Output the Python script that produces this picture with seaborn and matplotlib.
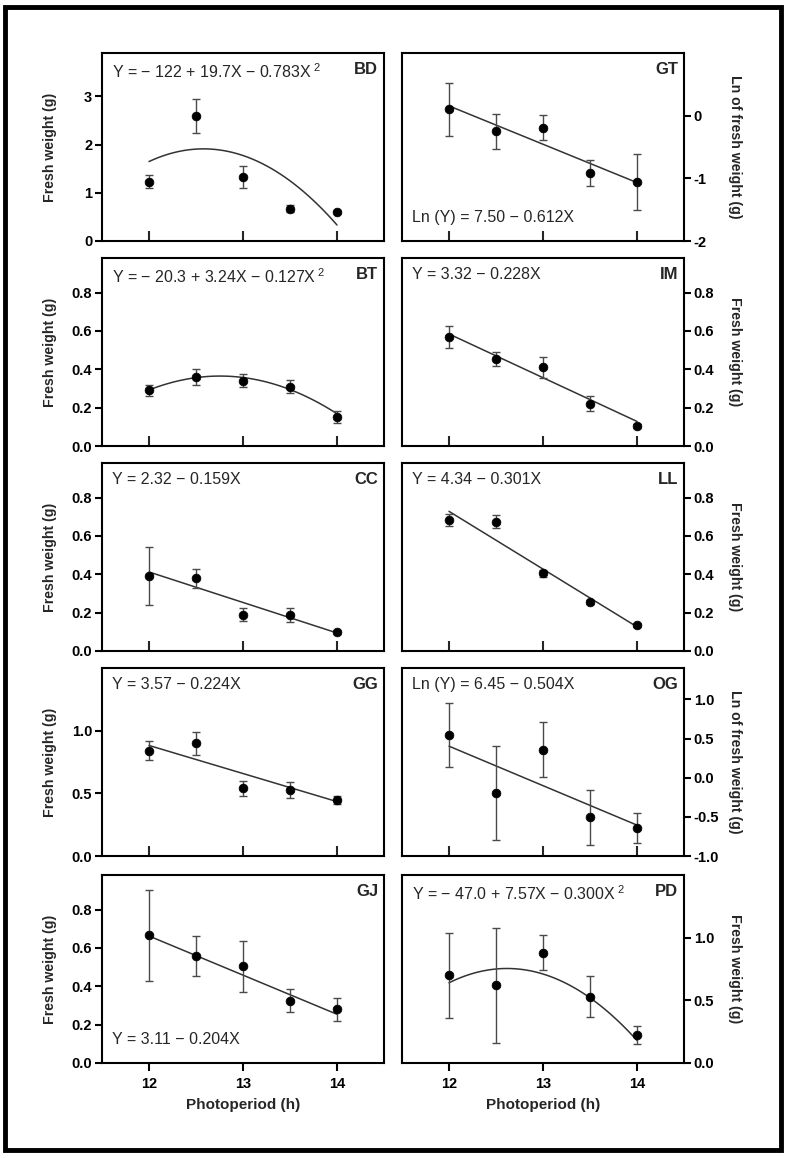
import numpy as np
import pandas as pd
import seaborn as sns
import matplotlib.pyplot as plt
from matplotlib.patches import Rectangle
from matplotlib.ticker import FormatStrFormatter

sns.set_theme(style='ticks')
plt.rcParams['font.family'] = ['Liberation Sans', 'DejaVu Sans']
plt.rcParams['axes.unicode_minus'] = False
plt.rcParams['mathtext.fontset'] = 'custom'
plt.rcParams['mathtext.rm'] = 'Liberation Sans'

photoperiod = [12, 12.5, 13, 13.5, 14]

# means and error bars (GT and OG are on ln scale)
bd_mean = [1.23, 2.60, 1.33, 0.67, 0.60]
bd_err = [0.14, 0.35, 0.23, 0.07, 0.02]
gt_mean = [0.10, -0.25, -0.19, -0.92, -1.06]
gt_err = [0.42, 0.28, 0.20, 0.21, 0.45]
bt_mean = [0.29, 0.36, 0.34, 0.31, 0.15]
bt_err = [0.03, 0.04, 0.033, 0.034, 0.03]
im_mean = [0.57, 0.454, 0.41, 0.221, 0.106]
im_err = [0.057, 0.035, 0.056, 0.04, 0.01]
cc_mean = [0.392, 0.378, 0.188, 0.186, 0.098]
cc_err = [0.15, 0.049, 0.034, 0.036, 0.008]
ll_mean = [0.683, 0.674, 0.404, 0.254, 0.135]
ll_err = [0.031, 0.033, 0.02, 0.01, 0.008]
gg_mean = [0.84, 0.90, 0.54, 0.525, 0.445]
gg_err = [0.077, 0.093, 0.062, 0.065, 0.03]
og_mean = [0.543, -0.197, 0.359, -0.504, -0.645]
og_err = [0.41, 0.60, 0.35, 0.35, 0.195]
gj_mean = [0.666, 0.557, 0.504, 0.325, 0.281]
gj_err = [0.238, 0.105, 0.132, 0.061, 0.06]
pd_mean = [0.70, 0.62, 0.88, 0.53, 0.225]
pd_err = [0.34, 0.46, 0.138, 0.163, 0.073]

# fitted regression coefficients printed on each panel (highest power first)
bd_fit = [-0.783, 19.7, -122]
gt_fit = [-0.612, 7.50]
bt_fit = [-0.127, 3.24, -20.3]
im_fit = [-0.228, 3.32]
cc_fit = [-0.159, 2.32]
ll_fit = [-0.301, 4.34]
gg_fit = [-0.224, 3.57]
og_fit = [-0.504, 6.45]
gj_fit = [-0.204, 3.11]
pd_fit = [-0.300, 7.57, -47.0]

sq = r'$^{\mathrm{\ 2}}$'
panels = [
    # name, mean, err, fit, equation, eq at bottom, ylim, yticks, ylabel, fmt
    ('BD', bd_mean, bd_err, bd_fit, 'Y = \u2212 122 + 19.7X \u2212 0.783X' + sq, False,
     (0, 3.9), [0, 1, 2, 3], 'Fresh weight (g)', '%d'),
    ('GT', gt_mean, gt_err, gt_fit, 'Ln (Y) = 7.50 \u2212 0.612X', True,
     (-2, 1.0), [-2, -1, 0], 'Ln of fresh weight (g)', '%d'),
    ('BT', bt_mean, bt_err, bt_fit, 'Y = \u2212 20.3 + 3.24X \u2212 0.127X' + sq, False,
     (0, 0.98), [0, 0.2, 0.4, 0.6, 0.8], 'Fresh weight (g)', '%.1f'),
    ('IM', im_mean, im_err, im_fit, 'Y = 3.32 \u2212 0.228X', False,
     (0, 0.98), [0, 0.2, 0.4, 0.6, 0.8], 'Fresh weight (g)', '%.1f'),
    ('CC', cc_mean, cc_err, cc_fit, 'Y = 2.32 \u2212 0.159X', False,
     (0, 0.98), [0, 0.2, 0.4, 0.6, 0.8], 'Fresh weight (g)', '%.1f'),
    ('LL', ll_mean, ll_err, ll_fit, 'Y = 4.34 \u2212 0.301X', False,
     (0, 0.98), [0, 0.2, 0.4, 0.6, 0.8], 'Fresh weight (g)', '%.1f'),
    ('GG', gg_mean, gg_err, gg_fit, 'Y = 3.57 \u2212 0.224X', False,
     (0, 1.5), [0, 0.5, 1.0], 'Fresh weight (g)', '%.1f'),
    ('OG', og_mean, og_err, og_fit, 'Ln (Y) = 6.45 \u2212 0.504X', False,
     (-1.0, 1.4), [-1.0, -0.5, 0.0, 0.5, 1.0], 'Ln of fresh weight (g)', '%.1f'),
    ('GJ', gj_mean, gj_err, gj_fit, 'Y = 3.11 \u2212 0.204X', True,
     (0, 0.98), [0, 0.2, 0.4, 0.6, 0.8], 'Fresh weight (g)', '%.1f'),
    ('PD', pd_mean, pd_err, pd_fit, 'Y = \u2212 47.0 + 7.57X \u2212 0.300X' + sq, False,
     (0, 1.5), [0, 0.5, 1.0], 'Fresh weight (g)', '%.1f'),
]

W, H = 787, 1158
fig = plt.figure(figsize=(W / 100, H / 100), dpi=100)

col_left = [102, 402]
col_w = 282
row_top = [53, 258, 463, 668, 875]
row_h = 188

for i, (name, mean, err, fit, eq, eq_bottom, ylim, yticks, ylabel, fmt) in enumerate(panels):
    row, col = i // 2, i % 2
    ax = fig.add_axes([col_left[col] / W, 1 - (row_top[row] + row_h) / H,
                       col_w / W, row_h / H])

    df = pd.DataFrame({'x': photoperiod, 'y': mean, 'err': err})
    xs = np.linspace(12, 14, 100)
    fit_df = pd.DataFrame({'x': xs, 'y': np.polyval(fit, xs)})

    sns.lineplot(data=fit_df, x='x', y='y', ax=ax, color='#333333', lw=1.1)
    ax.errorbar(df['x'], df['y'], yerr=df['err'], fmt='none', ecolor='#4a4a4a',
                elinewidth=1.0, capsize=3, capthick=1.0, zorder=3)
    sns.scatterplot(data=df, x='x', y='y', ax=ax, color='black', s=40,
                    edgecolor='black', zorder=4)

    ax.set_xlim(11.5, 14.5)
    ax.set_ylim(*ylim)
    ax.set_xticks([12, 13, 14])
    ax.set_yticks(yticks)
    ax.yaxis.set_major_formatter(FormatStrFormatter(fmt))
    for s in ax.spines.values():
        s.set_visible(True)
        s.set_linewidth(1.5)
        s.set_color('black')

    if col == 1:
        ax.yaxis.tick_right()
        ax.yaxis.set_label_position('right')
        ax.set_ylabel(ylabel, rotation=270, fontsize=10.2, fontweight='bold', va='center')
        ax.yaxis.set_label_coords(1.18, 0.5)
    else:
        ax.set_ylabel(ylabel, fontsize=10.2, fontweight='bold', va='center')
        ax.yaxis.set_label_coords(-0.185, 0.5)
    ax.tick_params(axis='y', direction='out', length=5, width=1.5, pad=2,
                   labelsize=10.5, colors='black')
    for t in ax.get_yticklabels():
        t.set_fontweight('bold')

    if row < 4:
        ax.tick_params(axis='x', direction='in', length=7, width=1.5, labelbottom=False)
        ax.set_xlabel('')
    else:
        ax.tick_params(axis='x', direction='out', length=6, width=1.5, pad=4,
                       labelsize=10.5, colors='black')
        for t in ax.get_xticklabels():
            t.set_fontweight('bold')
        ax.set_xlabel('Photoperiod (h)', fontsize=11, fontweight='bold', labelpad=5)

    if eq_bottom:
        ax.text(0.036, 0.10, eq, transform=ax.transAxes, fontsize=11.5,
                ha='left', va='baseline')
    else:
        ax.text(0.036, 0.952, eq, transform=ax.transAxes, fontsize=11.5,
                ha='left', va='top')
    ax.text(0.979, 0.952, name, transform=ax.transAxes, fontsize=12,
            fontweight='bold', ha='right', va='top')

fig.add_artist(Rectangle((5 / W, 1 - 1150 / H), 776 / W, 1143 / H,
                         transform=fig.transFigure, fill=False, lw=3.5,
                         edgecolor='black'))

fig.savefig('out.png', dpi=100)
